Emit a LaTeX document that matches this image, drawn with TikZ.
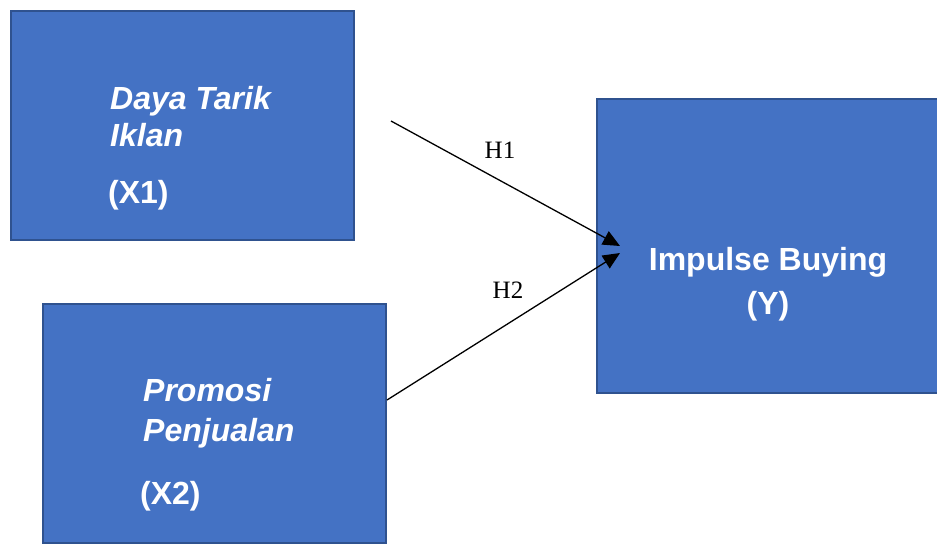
\documentclass[tikz,border=0pt]{standalone}
\usepackage{fontspec}
\setmainfont{Liberation Serif}
\newfontfamily\arialfont{Liberation Sans}
\usetikzlibrary{arrows.meta}
\definecolor{boxfill}{HTML}{4472C4}
\definecolor{boxline}{HTML}{2F528F}
\tikzset{
  varbox/.style={fill=boxfill, draw=boxline, line width=1.5pt, inner sep=0pt, anchor=north west},
  boxtext/.style={text=white, inner sep=0pt, font=\arialfont\bfseries\fontsize{32}{38}\selectfont},
  itext/.style={boxtext, font=\arialfont\bfseries\itshape\fontsize{32}{38}\selectfont},
  hlabel/.style={inner sep=0pt, font=\fontsize{25}{30}\selectfont},
  link/.style={line width=1.3pt, -{Triangle[length=17pt,width=15pt]}}
}
\begin{document}
\begin{tikzpicture}[x=1pt,y=-1pt]
\clip (0,0) rectangle (937,551);
\fill[white] (0,0) rectangle (937,551);
% boxes
\node[varbox, minimum width=343pt, minimum height=228.5pt] (x1) at (10,10.5) {};
\node[varbox, minimum width=343pt, minimum height=239pt] (x2) at (42,303) {};
\node[varbox, minimum width=349pt, minimum height=294pt] (y) at (596,98) {};
% texts
\node[itext, anchor=base west] (t1a) at (110,109) {Daya Tarik};
\node[itext, anchor=base west] (t1b) at (110,146) {Iklan};
\node[boxtext, anchor=base west] (t1c) at (108,203) {(X1)};
\node[itext, anchor=base west] (t2a) at (143,401) {Promosi};
\node[itext, anchor=base west] (t2b) at (143,441) {Penjualan};
\node[boxtext, anchor=base west] (t2c) at (140,504) {(X2)};
\node[boxtext, anchor=base] (t3a) at (768,270) {Impulse Buying};
\node[boxtext, anchor=base] (t3b) at (768,314) {(Y)};
% connectors
\coordinate (s1) at (391,121);
\coordinate (e1) at (620,246);
\coordinate (s2) at (387,400);
\coordinate (e2) at (620,253);
\draw[link] (s1) -- (e1);
\draw[link] (s2) -- (e2);
\node[hlabel] (h1) at (500,150) {H1};
\node[hlabel] (h2) at (508,290) {H2};
\end{tikzpicture}
\end{document}
